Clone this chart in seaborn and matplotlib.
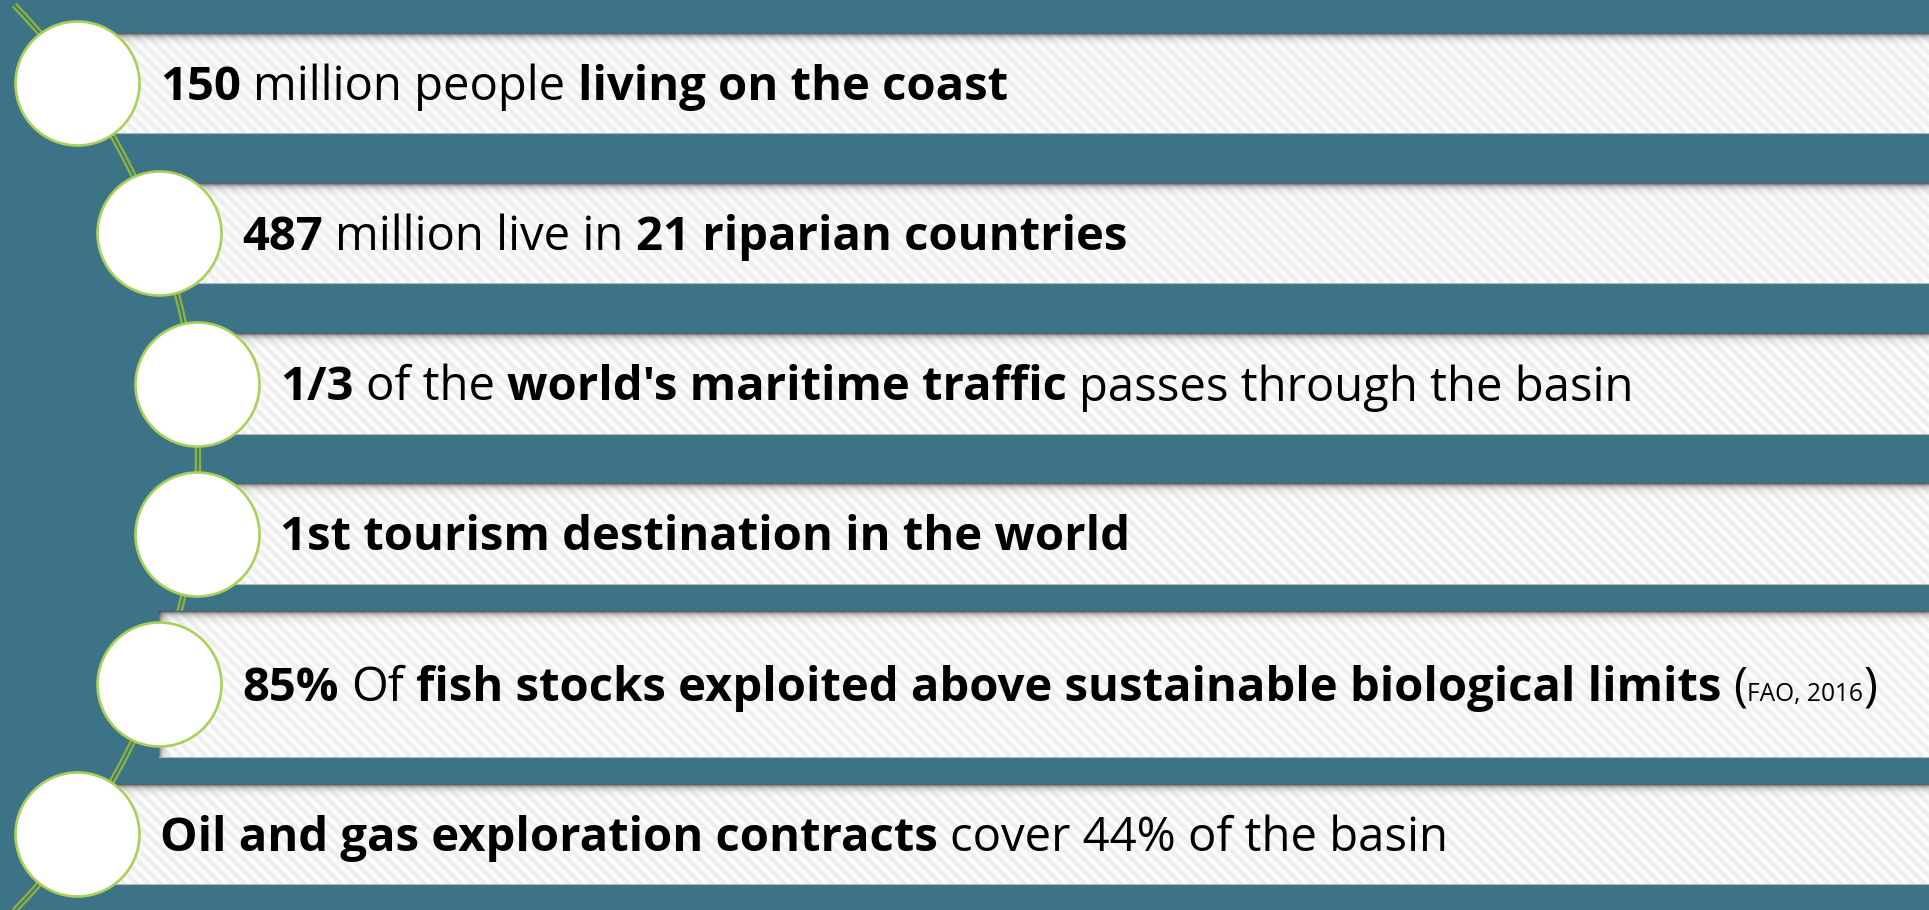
import numpy as np
import matplotlib
matplotlib.use("Agg")
import matplotlib.pyplot as plt
import seaborn as sns
from matplotlib.patches import Rectangle
from matplotlib.collections import LineCollection
from matplotlib.font_manager import FontProperties

# ---- content: one list of (text, style) runs per band ----
# style: "b" bold, "r" regular, "s" small regular (citation)
fact_population = [("150", "b"), (" million people ", "r"), ("living on the coast", "b")]
fact_countries = [("487", "b"), (" million live in ", "r"), ("21 riparian countries", "b")]
fact_traffic = [("1/3", "b"), (" of the ", "r"), ("world's maritime traffic", "b"),
                (" passes through the basin", "r")]
fact_tourism = [("1st tourism destination in the world", "b")]
fact_fisheries = [("85%", "b"), (" Of ", "r"),
                  ("fish stocks exploited above sustainable biological limits", "b"),
                  (" (", "r"), ("FAO, 2016", "s"), (")", "r")]
fact_energy = [("Oil and gas exploration contracts", "b"), (" cover 44% of the basin", "r")]
facts = [fact_population, fact_countries, fact_traffic,
         fact_tourism, fact_fisheries, fact_energy]

# ---- layout (pixels, y grows downward) ----
W, H = 1929, 910
band_top = [33, 183, 333, 483, 611, 784]
band_height = [100, 100, 101, 101, 146, 100]
node_x = [77, 159, 197, 197, 159, 77]
node_r = 63
text_gap = 20

teal = "#3d7386"
node_edge = "#a8d05a"
arc_green = "#8db33c"
band_white = "#fcfcfc"
stripe_grey = "#efefef"

sns.set_theme(style="white")
font_family = ["Open Sans", "DejaVu Sans"]
plt.rcParams["font.family"] = font_family

fig = plt.figure(figsize=(W / 100, H / 100), dpi=100)
fig.patch.set_facecolor(teal)
ax = fig.add_axes([0, 0, 1, 1])
ax.set_facecolor(teal)

band_center = [t + h / 2 for t, h in zip(band_top, band_height)]

# ---- connecting arc (double green rule) through the node centres ----
arc_cx, arc_cy, arc_R = -452.0, 458.0, 650.0
ys = np.linspace(5, H + 20, 400)
xs = arc_cx + np.sqrt(arc_R ** 2 - (ys - arc_cy) ** 2)
sns.lineplot(x=xs, y=ys, sort=False, estimator=None, color=arc_green,
             linewidth=4.6, ax=ax, zorder=1, solid_capstyle="butt")
sns.lineplot(x=xs, y=ys, sort=False, estimator=None, color=teal,
             linewidth=1.3, ax=ax, zorder=1.1, solid_capstyle="butt")

# ---- striped bands with a soft top/left shadow ----
for top, h, cx in zip(band_top, band_height, node_x):
    rect = Rectangle((cx, top), W - cx + 5, h, facecolor=band_white,
                     edgecolor="none", zorder=2)
    ax.add_patch(rect)
    segs = []
    for x0 in np.arange(cx - h - 12, W + 12, 12):
        segs.append([(x0, top), (x0 + h, top + h)])
    lc = LineCollection(segs, colors=stripe_grey, linewidths=3.2, zorder=2.1)
    ax.add_collection(lc)
    lc.set_clip_path(rect)
    # shadow along the top edge
    n = 14
    alpha = 0.8 * np.exp(-np.arange(n) / 3.0)
    grad = np.zeros((n, 1, 4))
    grad[:, 0, 3] = alpha
    grad[:, 0, :3] = 0.22
    ax.imshow(grad, extent=(cx, W, top + n, top), aspect="auto",
              interpolation="bilinear", zorder=2.2, origin="upper")
    # shadow along the left edge
    gradl = np.zeros((1, n, 4))
    gradl[0, :, 3] = alpha * 0.8
    gradl[0, :, :3] = 0.22
    ax.imshow(gradl, extent=(cx, cx + n, top + h, top), aspect="auto",
              interpolation="bilinear", zorder=2.2, origin="upper")
    ax.plot([cx, W], [top + h - 0.5, top + h - 0.5], color="#b5b5b5",
            linewidth=0.8, zorder=2.3)

# ---- circular nodes ----
diam_pt = (2 * node_r - 2) * 72 / 100
sns.scatterplot(x=node_x, y=band_center, s=diam_pt ** 2, color="white",
                edgecolor=node_edge, linewidth=1.9, ax=ax, zorder=5, legend=False)

# ---- fact text, drawn run by run ----
base_size = 34
props = {
    "b": FontProperties(family=font_family, weight="bold", size=base_size),
    "r": FontProperties(family=font_family, weight="normal", size=base_size),
    "s": FontProperties(family=font_family, weight="normal", size=base_size * 0.52),
}
renderer = fig.canvas.get_renderer()


def text_width(s, prop):
    w, _, _ = renderer.get_text_width_height_descent(s, prop, ismath=False)
    return w


space_w = {k: text_width("n n", p) - text_width("nn", p) for k, p in props.items()}

for segs, cx, yc in zip(facts, node_x, band_center):
    x = cx + node_r + text_gap
    baseline = yc + 17
    for txt, style in segs:
        prop = props[style]
        lead = len(txt) - len(txt.lstrip(" "))
        trail = len(txt) - len(txt.rstrip(" "))
        core = txt.strip(" ")
        x += lead * space_w[style]
        t = ax.text(x, baseline, core, fontproperties=prop, color="black",
                    ha="left", va="baseline", zorder=6)
        x += t.get_window_extent(renderer).width + trail * space_w[style]

ax.set_xlim(0, W)
ax.set_ylim(H, 0)
ax.axis("off")
fig.savefig("out.png", dpi=100, facecolor=teal)
